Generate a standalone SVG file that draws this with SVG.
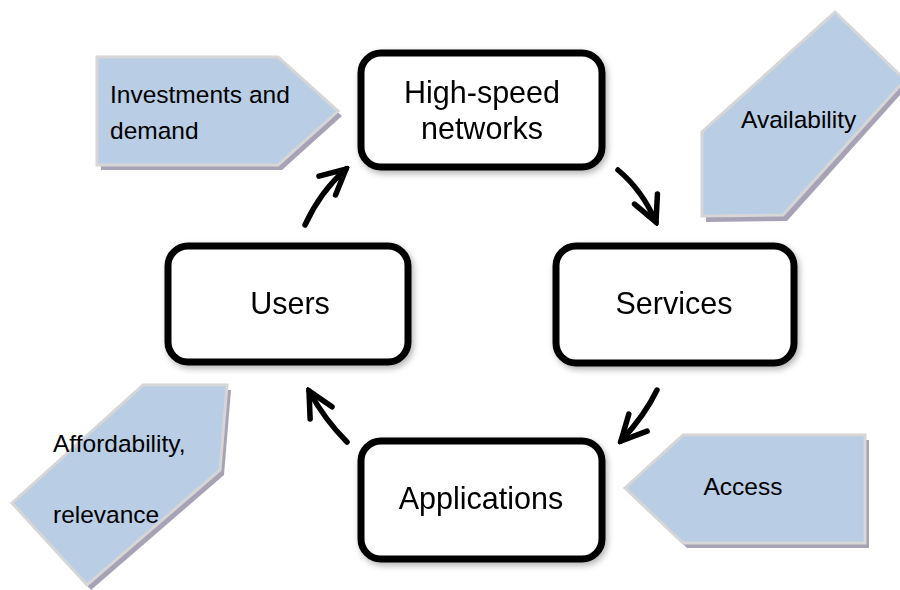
<svg xmlns="http://www.w3.org/2000/svg" width="900" height="590" viewBox="0 0 900 590">
<style>
.box{fill:#fff;stroke:#000;stroke-width:7}
.big{font-family:"Liberation Sans",Arial,sans-serif;font-size:30.5px;fill:#000}
.sm{font-family:"Liberation Sans",Arial,sans-serif;font-size:24.5px;fill:#000}
.tag{fill:#b9cde5;stroke:#d6d6d6;stroke-width:3;stroke-linejoin:miter}
.shd{fill:#a8a2b6}
.arr{fill:none;stroke:#000;stroke-width:5.5;stroke-linecap:round}
</style>
<defs>
<marker id="head" markerUnits="userSpaceOnUse" viewBox="-30 -16 34 32" markerWidth="34" markerHeight="32" refX="0" refY="0" orient="auto">
<path d="M-25,-12.5 L0,0 L-25,12.5" fill="none" stroke="#000" stroke-width="5.5" stroke-linecap="round" stroke-linejoin="miter"/>
</marker>
<filter id="soft" x="-10%" y="-10%" width="130%" height="130%">
<feDropShadow dx="2" dy="3" stdDeviation="3" flood-color="#000" flood-opacity="0.3"/>
</filter>
</defs>
<rect width="900" height="590" fill="#fff"/>

<g id="investments">
<polygon class="shd" points="101,62 282,62 342,116 282,170 101,170"/>
<polygon class="tag" points="97,57 278,57 338,111 278,165 97,165"/>
<text class="sm" x="110" y="103">Investments and</text>
<text class="sm" x="110" y="139">demand</text>
</g>

<g id="availability">
<polygon class="shd" points="839,17 909,85 787,221 706,222 706,137"/>
<polygon class="tag" points="835,12 905,80 783,215 702,216 702,132"/>
<text class="sm" x="741" y="128">Availability</text>
</g>

<g id="affordability">
<polygon class="shd" points="147,390 231,390 224,475 91,590 16,508"/>
<polygon class="tag" points="143,385 227,385 220,470 87,585 12,503"/>
<text class="sm" x="53" y="452">Affordability,</text>
<text class="sm" x="53" y="523">relevance</text>
</g>

<g id="access">
<polygon class="shd" points="629,493 687,440 869,440 869,548 687,548"/>
<polygon class="tag" points="625,488 683,435 865,435 865,543 683,543"/>
<text class="sm" x="743" y="495" text-anchor="middle">Access</text>
</g>

<g id="high-speed-networks" filter="url(#soft)">
<rect class="box" x="361" y="53" width="241" height="114" rx="20"/>
<text class="big" x="482" y="103" text-anchor="middle">High-speed</text>
<text class="big" x="482" y="139" text-anchor="middle">networks</text>
</g>

<g id="users" filter="url(#soft)">
<rect class="box" x="168" y="246" width="240" height="116" rx="20"/>
<text class="big" x="290" y="314" text-anchor="middle">Users</text>
</g>

<g id="services" filter="url(#soft)">
<rect class="box" x="556" y="246" width="238" height="117" rx="20"/>
<text class="big" x="674" y="314" text-anchor="middle">Services</text>
</g>

<g id="applications" filter="url(#soft)">
<rect class="box" x="361" y="441" width="241" height="118" rx="20"/>
<text class="big" x="481" y="509" text-anchor="middle">Applications</text>
</g>

<g id="connectors">
<path class="arr" d="M305,225 Q320,192 346,169" marker-end="url(#head)"/>
<path class="arr" d="M618,170 Q642,190 656,222" marker-end="url(#head)"/>
<path class="arr" d="M657,390 Q645,415 621,441" marker-end="url(#head)"/>
<path class="arr" d="M347,442 Q325,420 309,391" marker-end="url(#head)"/>
</g>
</svg>
